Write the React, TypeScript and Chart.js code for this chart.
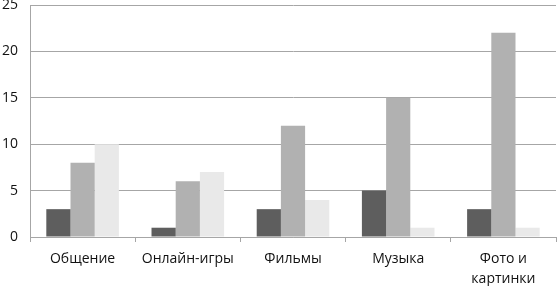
import React, { useEffect, useRef } from "react";
import { Chart, registerables } from "chart.js";

Chart.register(...registerables);

const categories: (string | string[])[] = ["Общение", "Онлайн-игры", "Фильмы", "Музыка", ["Фото и", "картинки"]];
const series1 = [3, 1, 3, 5, 3];
const series2 = [8, 6, 12, 15, 22];
const series3 = [10, 7, 4, 1, 1];
const yTicks = [0, 5, 10, 15, 20, 25];

export default function App() {
  const ref = useRef<HTMLCanvasElement | null>(null);
  useEffect(() => {
    document.body.style.margin = "0";
    if (!ref.current) return;
    const chart = new Chart(ref.current, {
      type: "bar",
      data: {
        labels: categories,
        datasets: [
          { data: series1, backgroundColor: "#5e5e5e" },
          { data: series2, backgroundColor: "#b1b1b1" },
          { data: series3, backgroundColor: "#e9e9e9" },
        ],
      },
      options: {
        animation: false,
        responsive: false,
        maintainAspectRatio: false,
        layout: { padding: { top: 5, right: 2, left: 0, bottom: 0 } },
        plugins: { legend: { display: false }, tooltip: { enabled: false } },
        datasets: { bar: { categoryPercentage: 0.69, barPercentage: 1 } },
        scales: {
          x: {
            grid: { drawOnChartArea: false, drawTicks: true, tickLength: 5, color: "#a6a6a6" },
            border: { color: "#a6a6a6" },
            ticks: { color: "#111", font: { family: "Open Sans", size: 14, lineHeight: 1.45 }, padding: 7, maxRotation: 0, autoSkip: false },
            afterFit: (s: any) => { s.height = 49; s.paddingLeft = 0; s.paddingRight = 0; },
          },
          y: {
            min: 0,
            max: 25,
            afterBuildTicks: (s: any) => { s.ticks = yTicks.map((v) => ({ value: v })); },
            grid: { drawTicks: false, color: "#a6a6a6" },
            border: { color: "#a6a6a6" },
            ticks: { color: "#111", font: { family: "Open Sans", size: 14 }, padding: 12 },
            afterFit: (s: any) => { s.width = 30; s.paddingTop = 0; s.paddingBottom = 0; },
          },
        },
      },
    });
    return () => chart.destroy();
  }, []);
  return (
    <div style={{ position: "absolute", left: 0, top: 0, width: 558, height: 286 }}>
      <canvas ref={ref} width={558} height={286} style={{ width: 558, height: 286 }} />
    </div>
  );
}
